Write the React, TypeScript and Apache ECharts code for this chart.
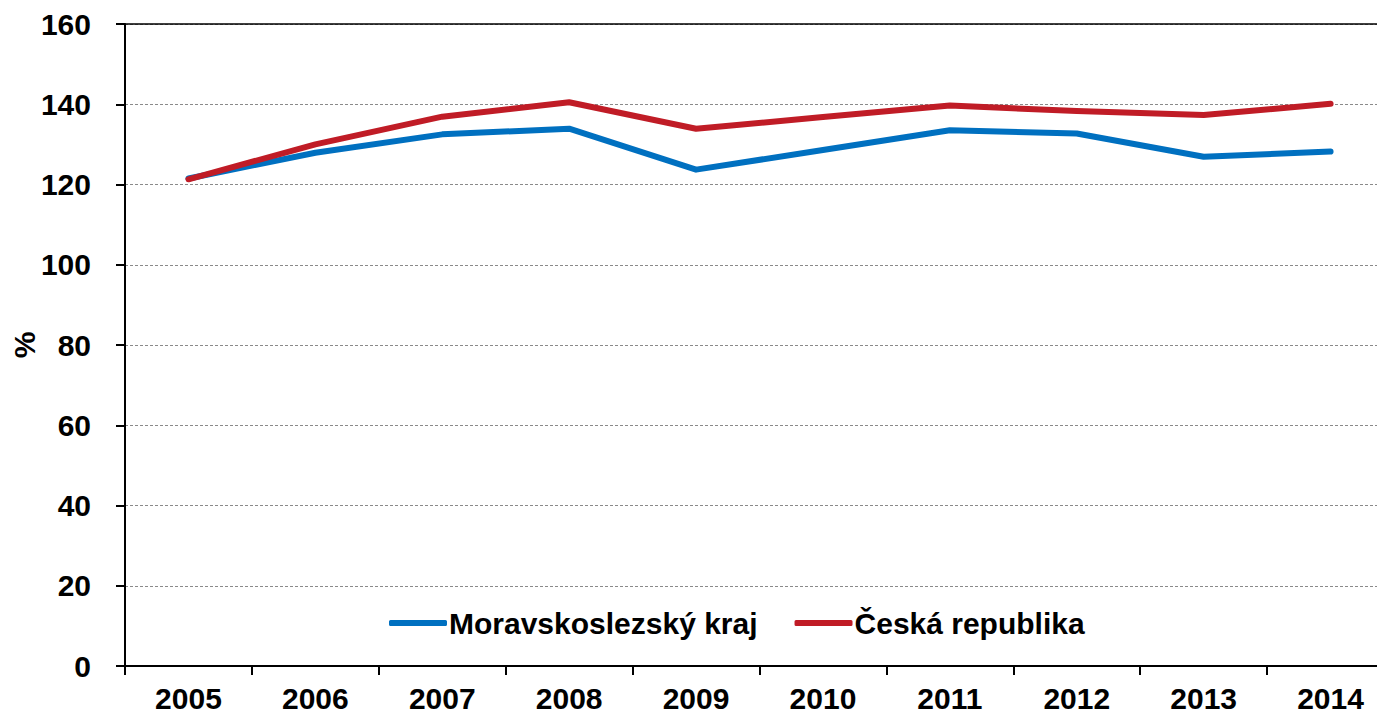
import React, { useEffect, useRef } from "react";
import * as echarts from "echarts";

const years = ["2005", "2006", "2007", "2008", "2009", "2010", "2011", "2012", "2013", "2014"];
const moravskoslezsky = [121.5, 127.9, 132.5, 133.9, 123.7, 128.6, 133.5, 132.7, 126.9, 128.2];
const ceskaRepublika = [121.3, 130.0, 136.9, 140.5, 133.9, 136.8, 139.7, 138.3, 137.3, 140.1];
const seriesNames = ["Moravskoslezský kraj", "Česká republika"];
const seriesColors = ["#0070C0", "#C01C26"];

const FONT = "'Liberation Sans', Arial, sans-serif";

export default function App() {
  const ref = useRef<HTMLDivElement>(null);
  useEffect(() => {
    if (!ref.current) return;
    const chart = echarts.init(ref.current, null, { renderer: "svg" });
    chart.setOption({
      animation: false,
      backgroundColor: "#ffffff",
      textStyle: { fontFamily: FONT },
      grid: { left: 125, top: 24, bottom: 50, right: 16, containLabel: false, outerBoundsMode: "none" },
      legend: {
        left: 384,
        top: 603,
        icon: "roundRect",
        itemWidth: 58,
        itemHeight: 6,
        itemGap: 37,
        textStyle: { fontSize: 30, fontWeight: "bold", color: "#000", fontFamily: FONT, padding: [0, 0, 0, -3] },
        data: seriesNames,
      },
      xAxis: [
        {
          type: "category",
          data: years,
          boundaryGap: true,
          axisLine: { lineStyle: { color: "#000", width: 2 } },
          axisTick: { show: true, length: 9, lineStyle: { color: "#000", width: 2 } },
          axisLabel: { fontSize: 30, fontWeight: "bold", color: "#000", margin: 17, fontFamily: FONT },
          splitLine: { show: false },
        },
        {
          type: "category",
          data: years,
          position: "top",
          axisLine: { show: true, lineStyle: { color: "#000", width: 1.5 } },
          axisTick: { show: false },
          axisLabel: { show: false },
          splitLine: { show: false },
        },
      ],
      yAxis: {
        type: "value",
        min: 0,
        max: 160,
        interval: 20,
        name: "%",
        nameLocation: "middle",
        nameGap: 86,
        nameMoveOverlap: false,
        nameTextStyle: { fontSize: 30, fontWeight: "bold", color: "#000", fontFamily: FONT },
        axisLine: { show: true, lineStyle: { color: "#000", width: 2 } },
        axisTick: { show: true, length: 9, lineStyle: { color: "#000", width: 2 } },
        axisLabel: { fontSize: 30, fontWeight: "bold", color: "#000", margin: 34, fontFamily: FONT },
        splitLine: { show: true, lineStyle: { color: "#8a8a8a", width: 1, type: [3, 2] } },
      },
      series: [
        {
          name: seriesNames[0],
          type: "line",
          data: moravskoslezsky,
          showSymbol: false,
          symbol: "none",
          color: seriesColors[0],
          lineStyle: { color: seriesColors[0], width: 6, cap: "round", join: "round" },
        },
        {
          name: seriesNames[1],
          type: "line",
          data: ceskaRepublika,
          showSymbol: false,
          symbol: "none",
          color: seriesColors[1],
          lineStyle: { color: seriesColors[1], width: 6, cap: "round", join: "round" },
        },
      ],
    });
    return () => chart.dispose();
  }, []);
  return (
    <div style={{ position: "absolute", left: 0, top: 0, width: 1377, height: 716, overflow: "hidden" }}>
      <div ref={ref} style={{ width: 1410, height: 716 }} />
    </div>
  );
}
